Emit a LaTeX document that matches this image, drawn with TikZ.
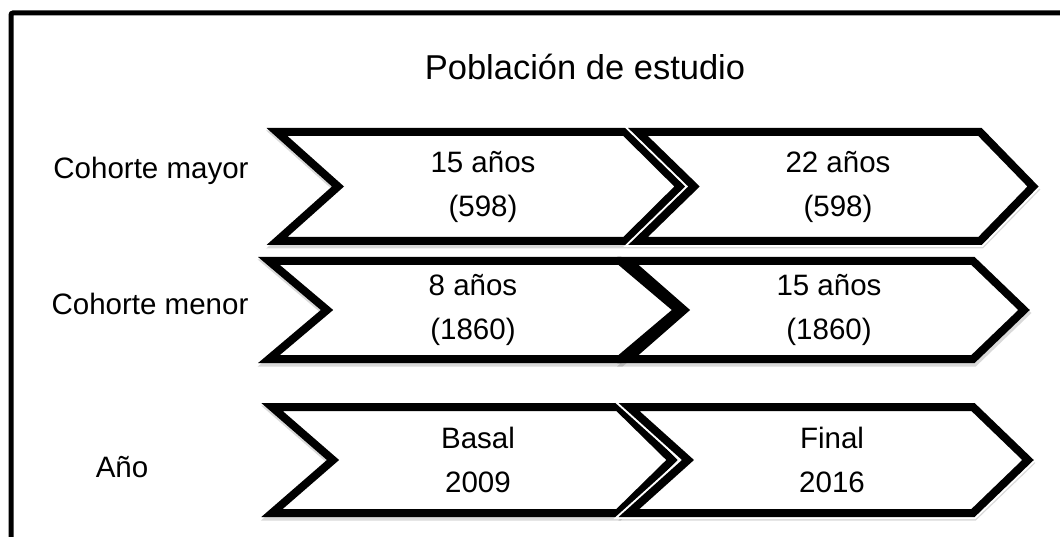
\documentclass[tikz,border=0pt]{standalone}
\usepackage{fontspec}
\setmainfont{Liberation Sans}
\begin{document}
\begin{tikzpicture}[x=1pt,y=-1pt,
  chev/.style={draw=black,fill=white,line width=8,line join=miter},
  chevhalo/.style={chev,preaction={draw=white,line width=12}},
  chevshadow/.style={draw=black,line width=9,opacity=0.15,line join=miter},
  frame/.style={draw=black,line width=5},
  lbl/.style={font=\fontsize{29.5}{34}\selectfont,inner sep=0},
  ctext/.style={font=\fontsize{29.5}{44}\selectfont,align=center,inner sep=0},
  title/.style={font=\fontsize{34.5}{40}\selectfont,inner sep=0}]
\useasboundingbox (0,0) rectangle (1060,537);
\fill[white] (0,0) rectangle (1060,537);
% frame (open at right and bottom)
\draw[frame,rounded corners=2] (11,540) -- (11,13) -- (1065,13);
\newcommand{\mychev}[7][chev]{%
  \path[chevshadow] ([shift={(1,3)}]#2,#6) -- ([shift={(1,3)}]#4,#6) -- ([shift={(1,3)}]#5,{(#6+#7)/2}) -- ([shift={(1,3)}]#4,#7) -- ([shift={(1,3)}]#2,#7) -- ([shift={(1,3)}]#3,{(#6+#7)/2}) -- cycle;
  \path[#1] (#2,#6) -- (#4,#6) -- (#5,{(#6+#7)/2}) -- (#4,#7) -- (#2,#7) -- (#3,{(#6+#7)/2}) -- cycle;}
% row 1
\mychev{277}{338}{625}{680}{132}{241}
\mychev[chevhalo]{638}{694}{980}{1033}{132}{241}
% row 2
\mychev{269}{327}{620}{678}{261}{359}
\mychev{628}{684}{973}{1024}{261}{359}
% row 3
\mychev{272}{333}{618}{672}{407}{513}
\mychev[chevhalo]{629}{688}{973}{1028}{407}{513}
% title
\node[title] (t) at (585,67) {Población de estudio};
% row labels
\node[lbl] (l1) at (151,171) {Cohorte mayor};
\node[lbl] (l2) at (150,304) {Cohorte menor};
\node[lbl] (l3) at (122,467) {Año};
% chevron texts
\node[ctext] (a1) at (483,187) {15 años\\(598)};
\node[ctext] (b1) at (838,187) {22 años\\(598)};
\node[ctext] (a2) at (473,310) {8 años\\(1860)};
\node[ctext] (b2) at (829,310) {15 años\\(1860)};
\node[ctext] (a3) at (478,460) {Basal\\2009};
\node[ctext] (b3) at (832,460) {Final\\2016};
\end{tikzpicture}
\end{document}
